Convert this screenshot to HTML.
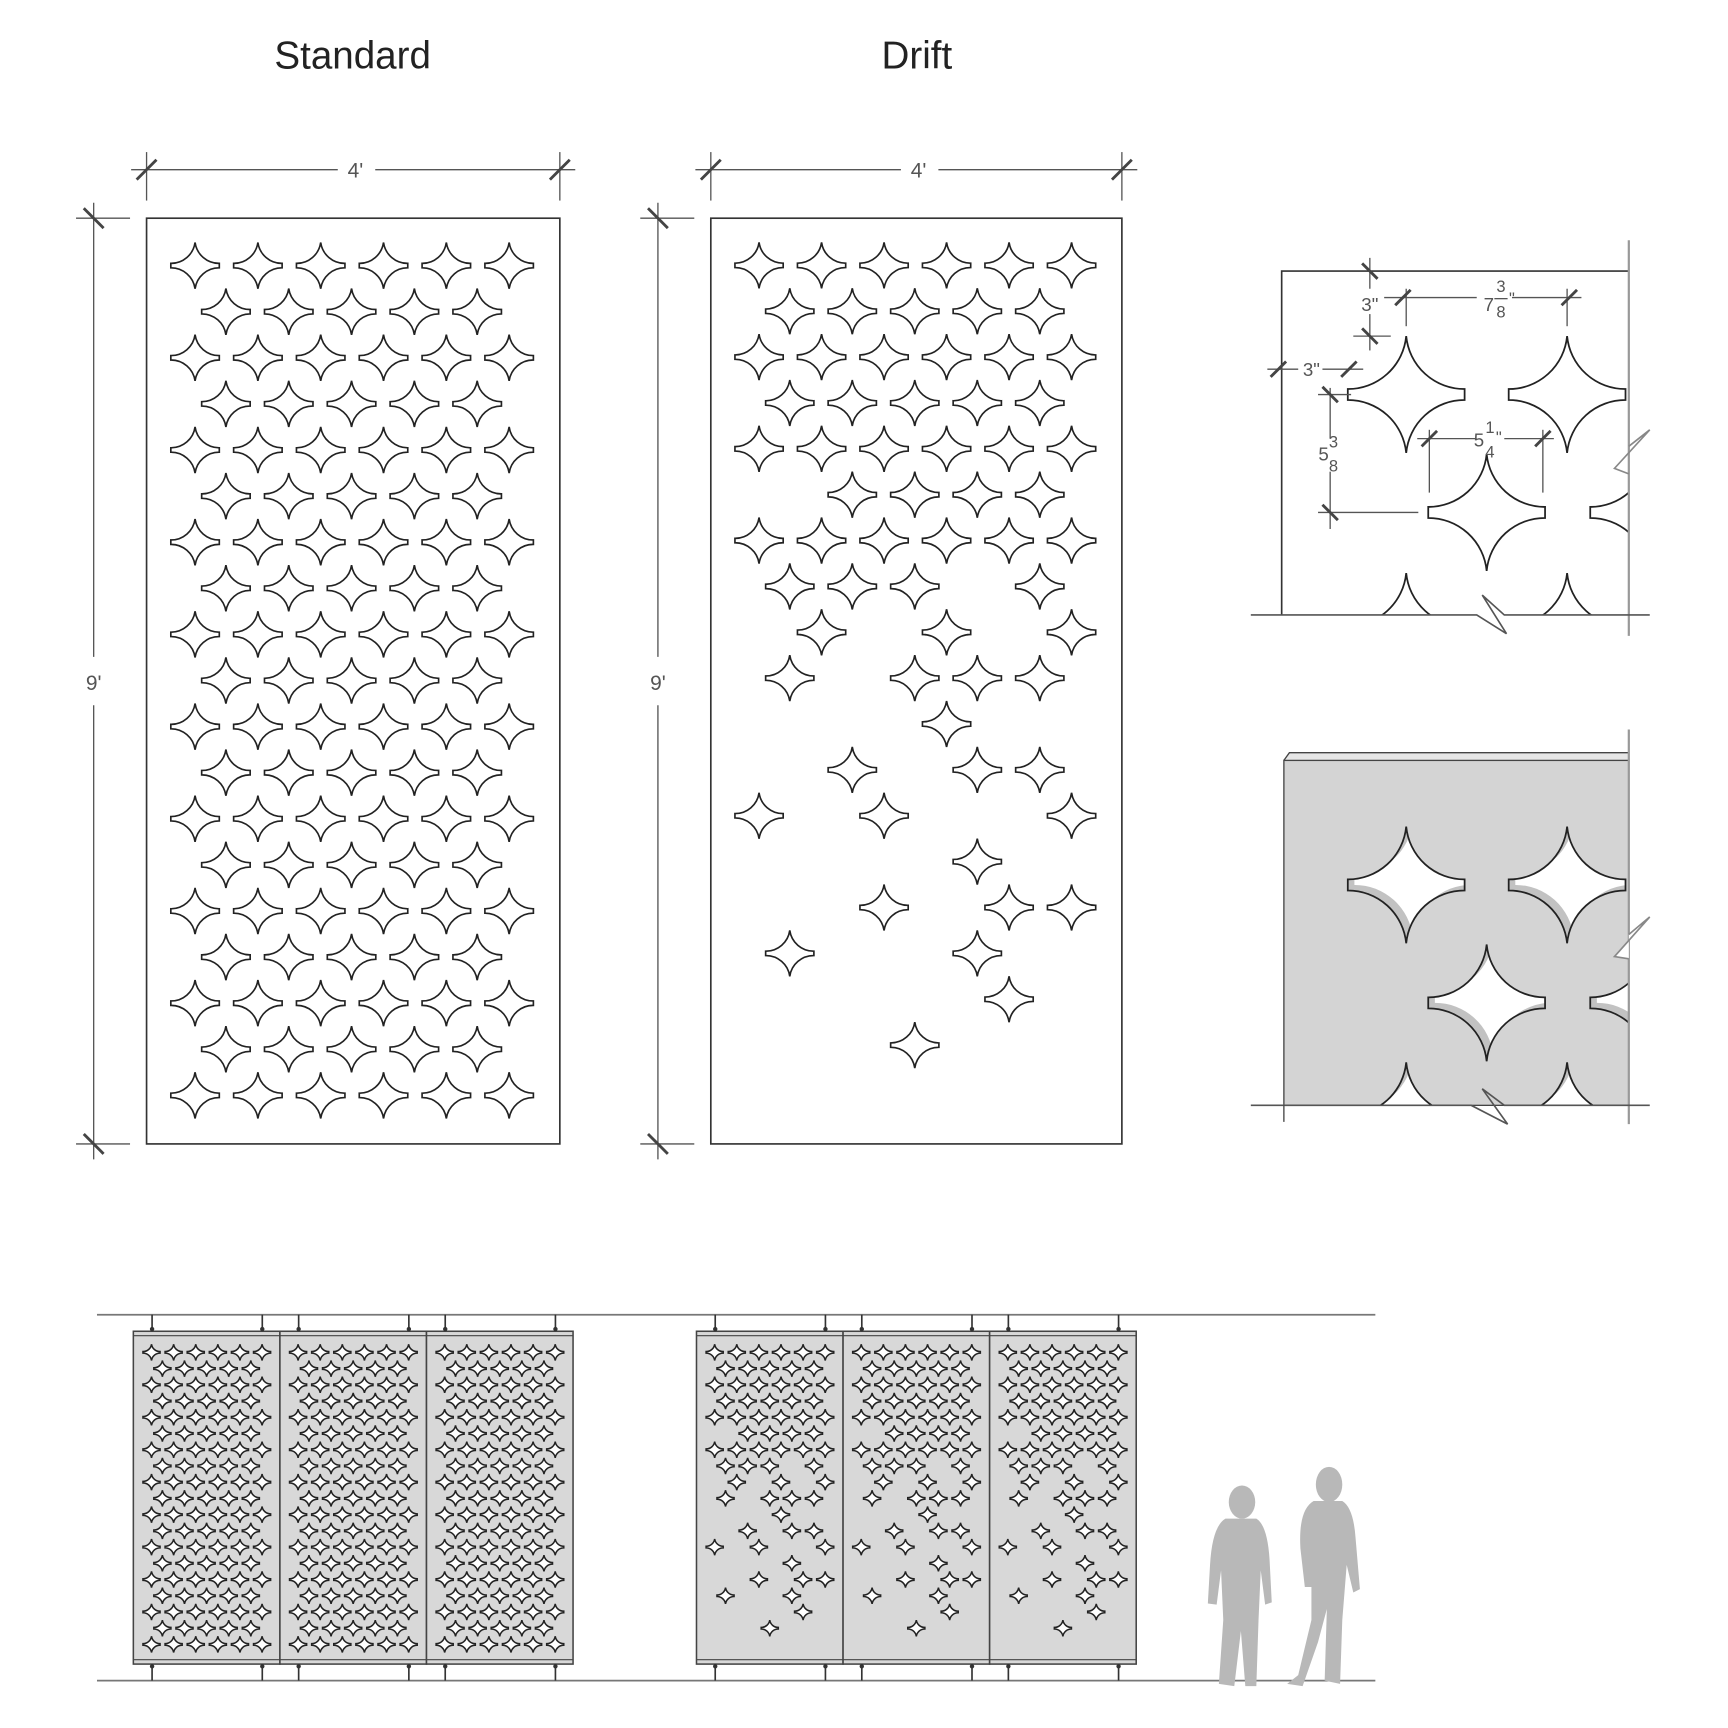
<!DOCTYPE html>
<html><head><meta charset="utf-8"><style>
html,body{margin:0;padding:0;background:#fff;width:1728px;height:1728px;overflow:hidden}
svg{display:block}
text{font-family:"Liberation Sans",sans-serif}
</style></head><body>
<svg id="s" width="1728" height="1728" viewBox="0 0 1568 1568" xmlns="http://www.w3.org/2000/svg">
<defs id="defs">
<clipPath id="c1"><rect x="1163" y="246" width="315" height="312"/></clipPath>
<clipPath id="c2"><rect x="1165" y="690" width="313" height="313"/></clipPath>
</defs>
<rect width="1568" height="1568" fill="#fff"/>
<text x="320" y="62" font-size="35" text-anchor="middle" fill="#222">Standard</text>
<text x="832" y="62" font-size="35" text-anchor="middle" fill="#222">Drift</text>
<g id="main" fill="none" stroke="#333" stroke-width="1.5"></g>
<g id="dims" stroke="#555" stroke-width="1.2" fill="none"></g>
<g id="det1" clip-path="url(#c1)" fill="none" stroke="#222" stroke-width="1.6"></g>
<g id="det2"></g>
<g id="elev"></g>
<g fill="#b8b8b8">
 <ellipse cx="1127" cy="1363" rx="12" ry="15"/>
 <path d="M1112,1378 Q1100,1385 1098,1420 L1096,1455 L1104,1456 L1108,1425 L1110,1470 L1106,1528 L1120,1530 L1126,1480 L1130,1530 L1140,1530 L1142,1470 L1144,1425 L1148,1456 L1154,1454 L1152,1415 Q1150,1384 1140,1378 Z"/>
 <ellipse cx="1206" cy="1347" rx="12" ry="16"/>
 <path d="M1192,1362 Q1178,1370 1180,1405 L1184,1440 L1190,1440 L1190,1410 L1190,1470 L1178,1520 L1168,1528 L1182,1530 L1196,1490 L1204,1460 L1202,1525 L1216,1528 L1218,1470 L1222,1420 L1228,1445 L1234,1442 L1230,1395 Q1228,1368 1218,1362 Z"/>
</g>
</svg>
<script>
const NS="http://www.w3.org/2000/svg";
function el(p,t,a){const e=document.createElementNS(NS,t);for(const k in a)e.setAttribute(k,a[k]);p.appendChild(e);return e;}
function sp(x,y,w,h,t){const r=w;return `M${x},${y-h} A${r},${r} 0 0 1 ${x-w},${y-t} L${x-w},${y+t} A${r},${r} 0 0 1 ${x},${y+h} A${r},${r} 0 0 1 ${x+w},${y+t} L${x+w},${y-t} A${r},${r} 0 0 1 ${x},${y-h} Z`;}
const std=[];
for(let i=0;i<19;i++){const y=241+i*41.83-198;const n=i%2?5:6;const x0=i%2?205:177;for(let j=0;j<n;j++)std.push([x0+j*57-133,y]);}
const dr={0:[0,1,2,3,4,5],1:[0,1,2,3,4],2:[0,1,2,3,4,5],3:[0,1,2,3,4],4:[0,1,2,3,4,5],5:[1,2,3,4],6:[0,1,2,3,4,5],7:[0,1,2,4],8:[1,3,5],9:[0,2,3,4],10:[3],11:[1,3,4],12:[0,2,5],13:[3],14:[2,4,5],15:[0,3],16:[4],17:[2],18:[]};
const drift=[];
for(let i=0;i<19;i++){const y=241+i*41.83-198;const x0=i%2?205:177;for(const j of dr[i])drift.push([x0+j*57-133,y]);}
function pattern(p,ox,oy,sc,set,fill,sw){const g=el(p,'g',{fill:fill,stroke:'#222','stroke-width':sw});
 for(const [x,y] of set)el(g,'path',{d:sp(ox+x*sc,oy+y*sc,22*sc,21*sc,2*sc)});}
const M=document.getElementById('main');
el(M,'rect',{x:133,y:198,width:375,height:840});
el(M,'rect',{x:645,y:198,width:373,height:840});
pattern(M,133,198,1,std,'none',1.5);
pattern(M,645,198,0.995,drift,'none',1.5);
const D=document.getElementById('dims');
function tick(x,y,dir){const d=9;el(D,'line',{x1:x-d,y1:y+(dir?d:-d),x2:x+d,y2:y+(dir?-d:d),'stroke-width':2.6,stroke:'#444'});}
function hdim(x1,x2,y,lab){el(D,'line',{x1:x1-14,y1:y,x2:(x1+x2)/2-14,y2:y});el(D,'line',{x1:(x1+x2)/2+20,y1:y,x2:x2+14,y2:y});
 el(D,'line',{x1:x1,y1:y-16,x2:x1,y2:y+28});el(D,'line',{x1:x2,y1:y-16,x2:x2,y2:y+28});tick(x1,y,1);tick(x2,y,1);
 el(D,'text',{x:(x1+x2)/2+2,y:y+7,'font-size':19,'text-anchor':'middle',fill:'#555',stroke:'none'}).textContent=lab;}
function vdim(x,y1,y2,lab){el(D,'line',{x1:x,y1:y1-14,x2:x,y2:(y1+y2)/2-22});el(D,'line',{x1:x,y1:(y1+y2)/2+22,x2:x,y2:y2+14});
 el(D,'line',{x1:x-16,y1:y1,x2:x+33,y2:y1});el(D,'line',{x1:x-16,y1:y2,x2:x+33,y2:y2});tick(x,y1,0);tick(x,y2,0);
 el(D,'text',{x:x,y:(y1+y2)/2+8,'font-size':19,'text-anchor':'middle',fill:'#555',stroke:'none'}).textContent=lab;}
hdim(133,508,154,"4'");hdim(645,1018,154,"4'");
vdim(85,198,1038,"9'");vdim(597,198,1038,"9'");
const T1=document.getElementById('det1');
const ds=[[1276,358],[1422,358],[1349,465],[1276,573],[1422,573],[1496,465]];
for(const [x,y] of ds)el(T1,'path',{d:sp(x,y,53,53,5)});
const S=document.getElementById('s');
const F=el(S,'g',{fill:'none',stroke:'#333','stroke-width':1.5});
el(F,'polyline',{points:'1163,558 1163,246 1478,246'});
el(F,'line',{x1:1478,y1:218,x2:1478,y2:577,stroke:'#999','stroke-width':2});
el(F,'path',{d:'M1135,558 L1340,558 L1367,575 L1345,540 L1365,558 L1497,558',stroke:'#555'});
el(F,'path',{d:'M1478,430 L1465,425 L1497,390 L1478,405',stroke:'#888'});
const DD=el(S,'g',{stroke:'#555','stroke-width':1.2,fill:'none'});
function tk(p,x,y,dir){el(p,'line',{x1:x-7,y1:y+(dir?7:-7),x2:x+7,y2:y+(dir?-7:7),'stroke-width':2.6,stroke:'#444'});}
function tx(p,x,y,s,fs){el(p,'text',{x:x,y:y,'font-size':fs||17,'text-anchor':'middle',fill:'#555',stroke:'none'}).textContent=s;}
el(DD,'line',{x1:1243,y1:234,x2:1243,y2:262});el(DD,'line',{x1:1243,y1:285,x2:1243,y2:318});el(DD,'line',{x1:1228,y1:305,x2:1262,y2:305});
tk(DD,1243,246,0);tk(DD,1243,305,0);tx(DD,1243,282,'3"');
el(DD,'line',{x1:1256,y1:270,x2:1340,y2:270});el(DD,'line',{x1:1372,y1:270,x2:1435,y2:270});
el(DD,'line',{x1:1276,y1:262,x2:1276,y2:296});el(DD,'line',{x1:1422,y1:262,x2:1422,y2:296});
tk(DD,1273,270,1);tk(DD,1424,270,1);tx(DD,1351,282,'7');tx(DD,1362,265,'3',15);tx(DD,1362,288,'8',15);tx(DD,1372,276,'"',15);
el(DD,'line',{x1:1356,y1:271,x2:1368,y2:271});
el(DD,'line',{x1:1150,y1:335,x2:1178,y2:335});el(DD,'line',{x1:1200,y1:335,x2:1237,y2:335});
tk(DD,1160,335,1);tk(DD,1224,335,1);tx(DD,1190,341,'3"');
el(DD,'line',{x1:1207,y1:352,x2:1207,y2:398});el(DD,'line',{x1:1207,y1:428,x2:1207,y2:480});
el(DD,'line',{x1:1196,y1:358,x2:1226,y2:358});el(DD,'line',{x1:1196,y1:465,x2:1287,y2:465});
tk(DD,1207,358,0);tk(DD,1207,465,0);tx(DD,1201,418,'5');tx(DD,1210,406,'3',15);tx(DD,1210,428,'8',15);
el(DD,'line',{x1:1286,y1:398,x2:1340,y2:398});el(DD,'line',{x1:1365,y1:398,x2:1410,y2:398});
el(DD,'line',{x1:1297,y1:390,x2:1297,y2:447});el(DD,'line',{x1:1400,y1:390,x2:1400,y2:447});
tk(DD,1297,398,1);tk(DD,1400,398,1);tx(DD,1342,405,'5');tx(DD,1352,393,'1',15);tx(DD,1352,415,'4',15);tx(DD,1360,402,'"',15);
const T2=document.getElementById('det2');
const DF=document.getElementById('defs');
el(T2,'path',{d:'M1165,690 L1170,683 L1478,683 L1478,690',fill:'#e6e6e6',stroke:'#444','stroke-width':1.2});
el(T2,'rect',{x:1165,y:690,width:313,height:313,fill:'#d4d4d4',stroke:'#444','stroke-width':1.2});
const G2=el(T2,'g',{'clip-path':'url(#c2)'});
const ds2=[[1276,803],[1422,803],[1349,910],[1276,1017],[1422,1017],[1496,910]];
ds2.forEach(([x,y],i)=>{
 const cp=el(DF,'clipPath',{id:'h'+i});el(cp,'path',{d:sp(x,y,53,53,5)});
 const g=el(G2,'g',{'clip-path':`url(#h${i})`});
 el(g,'rect',{x:x-60,y:y-60,width:120,height:120,fill:'#c2c2c2'});
 el(g,'path',{d:sp(x+6,y-5,53,53,5),fill:'#fff'});
 el(G2,'path',{d:sp(x,y,53,53,5),fill:'none',stroke:'#222','stroke-width':1.6});
});
el(T2,'line',{x1:1478,y1:662,x2:1478,y2:1020,stroke:'#999','stroke-width':2});
el(T2,'path',{d:'M1135,1003 L1335,1003 L1368,1020 L1345,988 L1365,1003 L1497,1003',stroke:'#555','stroke-width':1.5,fill:'none'});
el(T2,'path',{d:'M1478,870 L1465,868 L1497,832 L1478,848',stroke:'#888','stroke-width':1.5,fill:'#fff'});
el(T2,'line',{x1:1165,y1:1003,x2:1165,y2:1018,stroke:'#444','stroke-width':1.2});
const E=document.getElementById('elev');
el(E,'line',{x1:88,y1:1193,x2:1248,y2:1193,stroke:'#777','stroke-width':1.6});
el(E,'line',{x1:88,y1:1525,x2:1248,y2:1525,stroke:'#777','stroke-width':1.6});
function minip(x,set){
 el(E,'rect',{x:x,y:1208,width:133,height:302,fill:'#d8d8d8',stroke:'#444','stroke-width':1.4});
 el(E,'line',{x1:x,y1:1212,x2:x+133,y2:1212,stroke:'#444','stroke-width':1});
 el(E,'line',{x1:x,y1:1506,x2:x+133,y2:1506,stroke:'#444','stroke-width':1});
 pattern(E,x+1,1212,0.352,set,'#fff',1.4);
 for(const hx of [x+17,x+117]){el(E,'line',{x1:hx,y1:1193,x2:hx,y2:1208,stroke:'#333','stroke-width':1.5});
  el(E,'line',{x1:hx,y1:1510,x2:hx,y2:1525,stroke:'#333','stroke-width':1.5});
  el(E,'circle',{cx:hx,cy:1206,r:2,fill:'#333'});el(E,'circle',{cx:hx,cy:1512,r:2,fill:'#333'});}
}
minip(121,std);minip(254,std);minip(387,std);
minip(632,drift);minip(765,drift);minip(898,drift);
</script>
</body></html>
